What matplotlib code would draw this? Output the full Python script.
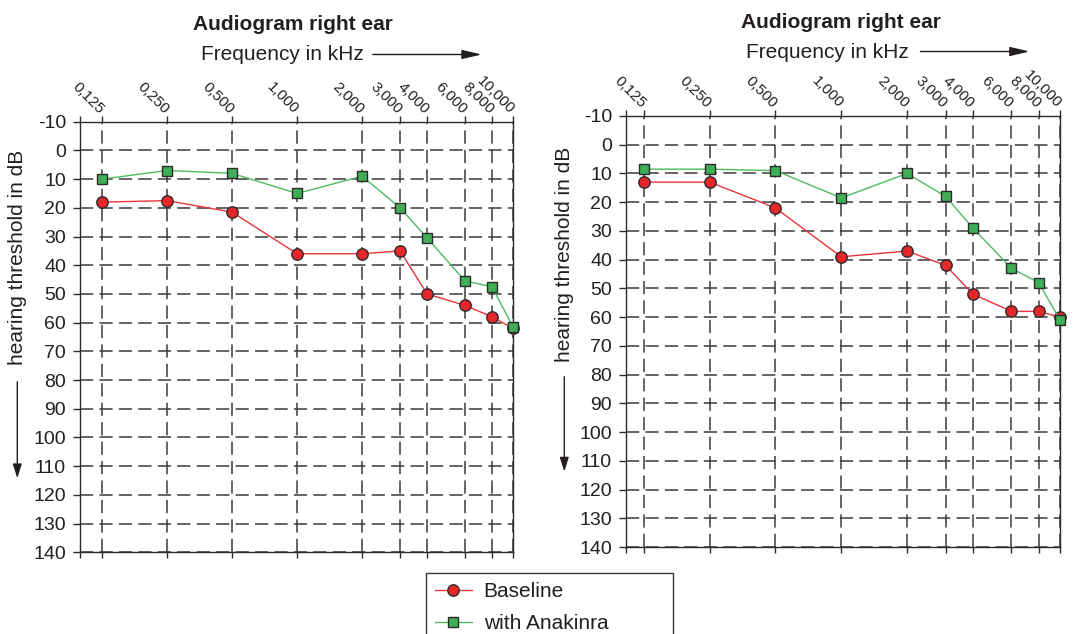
import matplotlib
matplotlib.use("Agg")
import matplotlib.pyplot as plt
import matplotlib.transforms as mtransforms
from matplotlib.ticker import FixedLocator, NullFormatter
from matplotlib.patches import FancyArrowPatch

plt.rcParams['font.family'] = ['Liberation Sans', 'DejaVu Sans']
plt.rcParams['lines.scale_dashes'] = False

# ---- data -------------------------------------------------------------
freq_khz = [0.125, 0.25, 0.5, 1, 2, 3, 4, 6, 8, 10]
freq_labels = ['0,125', '0,250', '0,500', '1,000', '2,000',
               '3,000', '4,000', '6,000', '8,000', '10,000']
db_ticks = list(range(-10, 141, 10))

# hearing thresholds in dB (left audiogram / right audiogram)
left_baseline = [18, 17.5, 21.5, 36, 36, 35, 50, 54, 58, 62]
left_anakinra = [10, 7, 8, 15, 9, 20, 30.5, 45.5, 47.5, 61.5]
right_baseline = [13, 13, 22, 39, 37, 42, 52, 58, 58, 60]
right_anakinra = [8.5, 8.5, 9, 18.5, 10, 18, 29, 43, 48, 61]

series_labels = ['Baseline', 'with Anakinra']
title_text = 'Audiogram right ear'
freq_text = 'Frequency in kHz'
ylabel_text = 'hearing threshold in dB'

# ---- styling ----------------------------------------------------------
W, H = 1075, 634
DPI = 100
INK = '#231f20'
GRID = '#3a3a3a'
RED_LINE, RED_FILL = '#e8343a', '#e5262b'
GRN_LINE, GRN_FILL = '#4dba60', '#3fae57'
EDGE = '#2b2b2b'

fig = plt.figure(figsize=(W / DPI, H / DPI), dpi=DPI)


def px_axes(left, top, right, bottom):
    return fig.add_axes([left / W, 1 - bottom / H, (right - left) / W, (bottom - top) / H])


def arrow(p0, p1, hl, hw):
    a = FancyArrowPatch((p0[0] / W, 1 - p0[1] / H), (p1[0] / W, 1 - p1[1] / H),
                        transform=fig.transFigure,
                        arrowstyle=f'-|>,head_length={hl},head_width={hw}',
                        mutation_scale=10, lw=1.0, color=INK,
                        shrinkA=0, shrinkB=0)
    fig.add_artist(a)


def audiogram(box, xmin, baseline, anakinra, title_xy, freq_xy, freq_arrow,
              ylab_xy, ylab_arrow):
    ax = px_axes(*box)
    ax.set_xscale('log', base=2)
    ax.set_xlim(xmin, 10)
    ax.set_ylim(140, -10)

    ax.xaxis.set_major_locator(FixedLocator(freq_khz))
    ax.xaxis.set_major_formatter(NullFormatter())
    ax.xaxis.set_minor_locator(FixedLocator([xmin]))
    ax.xaxis.set_minor_formatter(NullFormatter())
    ax.tick_params(axis='x', which='both', top=True, bottom=True,
                   labeltop=False, labelbottom=False, direction='out',
                   length=4.2, width=1.0, color=EDGE)

    ax.set_yticks(db_ticks)
    ax.set_yticklabels([str(v) for v in db_ticks])
    ax.tick_params(axis='y', direction='out', length=5, width=1.0, color=EDGE,
                   pad=5, labelsize=14, labelcolor=INK)

    ax.grid(True, which='major', color=GRID, lw=1.1, linestyle=(0, (9.5, 4.5)))
    for sp in ax.spines.values():
        sp.set_color(EDGE)
        sp.set_linewidth(1.0)

    # rotated frequency labels above the frame
    trans = mtransforms.offset_copy(ax.get_xaxis_transform(), fig=fig,
                                    x=-2.5, y=5.5, units='points')
    for f, lab in zip(freq_khz, freq_labels):
        ax.text(f, 1.0, lab, transform=trans, rotation=-45,
                rotation_mode='anchor', ha='right', va='baseline',
                fontsize=11, color=INK, clip_on=False)

    hb, = ax.plot(freq_khz, baseline, color=RED_LINE, lw=1.0, marker='o',
                  ms=8.2, mfc=RED_FILL, mec=EDGE, mew=1.0, zorder=3,
                  clip_on=False)
    ha, = ax.plot(freq_khz, anakinra, color=GRN_LINE, lw=1.0, marker='s',
                  ms=7.2, mfc=GRN_FILL, mec=EDGE, mew=1.0, zorder=4,
                  clip_on=False)

    fig.text(title_xy[0] / W, 1 - title_xy[1] / H, title_text, ha='center',
             va='baseline', fontsize=15, fontweight='bold', color=INK)
    fig.text(freq_xy[0] / W, 1 - freq_xy[1] / H, freq_text, ha='left',
             va='baseline', fontsize=15, color=INK)
    arrow(freq_arrow[0], freq_arrow[1], 1.2, 0.28)

    fig.text(ylab_xy[0] / W, 1 - ylab_xy[1] / H, ylabel_text, rotation=90,
             ha='center', va='center', fontsize=15, color=INK)
    arrow(ylab_arrow[0], ylab_arrow[1], 0.86, 0.27)
    return hb, ha


hb, ha = audiogram((80, 121.7, 513, 552.3), 0.0987, left_baseline, left_anakinra,
                   title_xy=(293, 30.5), freq_xy=(200.7, 60.5),
                   freq_arrow=((372.7, 54.5), (481.7, 54.5)),
                   ylab_xy=(17.5, 257.5),
                   ylab_arrow=((17.3, 381.7), (17.3, 478.3)))

audiogram((626, 116, 1060, 547), 0.1037, right_baseline, right_anakinra,
          title_xy=(841, 27.5), freq_xy=(745.7, 58.5),
          freq_arrow=((920.4, 51.5), (1029.6, 51.5)),
          ylab_xy=(564.5, 254.2),
          ylab_arrow=((564.3, 376.7), (564.3, 471.7)))

leg_left, leg_top, leg_right = 425.7, 572.7, 672.7
leg = fig.legend(handles=[hb, ha], labels=series_labels, loc='upper left',
                 bbox_to_anchor=(leg_left / W, 1 - leg_top / H - 0.2,
                                 (leg_right - leg_left) / W, 0.2),
                 mode='expand', borderaxespad=0, fancybox=False,
                 edgecolor='#3a3a3a', framealpha=1, fontsize=15,
                 handlelength=1.75, handletextpad=0.58, borderpad=0.45,
                 labelspacing=0.62)
leg.get_frame().set_linewidth(1.0)
for t in leg.get_texts():
    t.set_color(INK)

fig.savefig('out.png', dpi=DPI)
